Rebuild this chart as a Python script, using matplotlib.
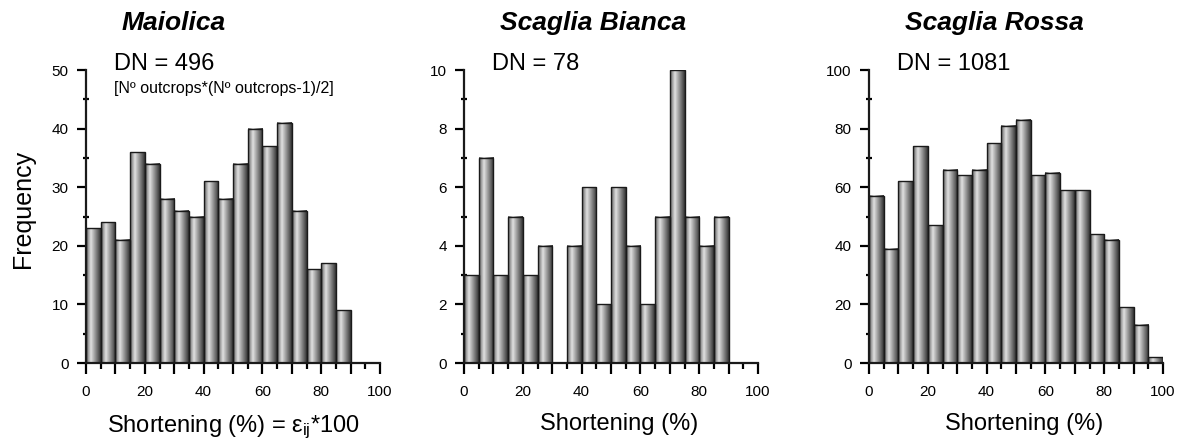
import numpy as np
import matplotlib
matplotlib.use("Agg")
import matplotlib.pyplot as plt
from matplotlib.ticker import MultipleLocator, FuncFormatter

plt.rcParams['font.family'] = ['Liberation Sans', 'DejaVu Sans']
plt.rcParams['mathtext.fontset'] = 'custom'
plt.rcParams['mathtext.rm'] = 'Liberation Sans'
plt.rcParams['mathtext.it'] = 'Liberation Sans:italic'

# histogram data, 5 % bins starting at 0
bin_width = 5
maiolica = [23, 24, 21, 36, 34, 28, 26, 25, 31, 28, 34, 40, 37, 41, 26, 16, 17, 9]
scaglia_bianca = [3, 7, 3, 5, 3, 4, 0, 4, 6, 2, 6, 4, 2, 5, 10, 5, 4, 5]
scaglia_rossa = [57, 39, 62, 74, 47, 66, 64, 66, 75, 81, 83, 64, 65, 59, 59, 44, 42, 19, 13, 2]

titles = ['Maiolica', 'Scaglia Bianca', 'Scaglia Rossa']
dn_labels = ['DN = 496', 'DN = 78', 'DN = 1081']
xlabels = ['Shortening (%) = ε$_\\mathrm{ij}$*100', 'Shortening (%)', 'Shortening (%)']
ymax = [50, 10, 100]
ystep = [10, 2, 20]

# horizontal shading of the bars (dark edge, highlight, dark edge)
shade = np.interp(np.linspace(0, 1, 64), [0, 0.33, 1], [0.38, 0.88, 0.2])
grad = shade[np.newaxis, :]

fig = plt.figure(figsize=(11.8, 4.4), dpi=100)
lefts = [86, 464, 869]
W, H = 1180, 440


def plot_hist(ax, counts, top, step):
    edges = np.arange(len(counts)) * bin_width
    bars = ax.bar(edges, counts, width=bin_width, align='edge',
                  facecolor='none', edgecolor='#1a1a1a', linewidth=1.0, zorder=3)
    for p in bars.patches:
        if p.get_height() <= 0:
            p.set_visible(False)
            continue
        x0, y0 = p.get_x(), p.get_y()
        ax.imshow(grad, extent=[x0, x0 + p.get_width(), y0, y0 + p.get_height()],
                  aspect='auto', cmap='gray', vmin=0, vmax=1, zorder=2,
                  interpolation='bilinear')
    ax.set_xlim(0, 100)
    ax.set_ylim(0, top)
    for s in ['top', 'right']:
        ax.spines[s].set_visible(False)
    for s in ['left', 'bottom']:
        ax.spines[s].set_linewidth(1.6)
        ax.spines[s].set_color('#1a1a1a')
        ax.spines[s].set_zorder(4)
    ax.xaxis.set_major_locator(MultipleLocator(10))
    ax.xaxis.set_minor_locator(MultipleLocator(5))
    ax.xaxis.set_major_formatter(FuncFormatter(
        lambda v, pos: '%d' % v if int(round(v)) % 20 == 0 else ''))
    ax.yaxis.set_major_locator(MultipleLocator(step))
    ax.yaxis.set_minor_locator(MultipleLocator(step / 2))
    ax.tick_params(axis='x', which='major', direction='out', length=8, width=1.6,
                   labelsize=11, pad=8)
    ax.tick_params(axis='x', which='minor', direction='out', length=4.5, width=1.6)
    ax.tick_params(axis='y', which='major', direction='out', length=6.5, width=1.6,
                   labelsize=11, pad=6)
    ax.tick_params(axis='y', which='minor', direction='inout', length=5, width=1.6)


for i, counts in enumerate([maiolica, scaglia_bianca, scaglia_rossa]):
    ax = fig.add_axes([lefts[i] / W, (H - 363) / H, 294 / W, 293 / H])
    plot_hist(ax, counts, ymax[i], ystep[i])
    ax.text(0.122, 1.1365, titles[i], transform=ax.transAxes, fontsize=19,
            fontweight='bold', fontstyle='italic', ha='left', va='baseline')
    ax.text(0.095, 1.0, dn_labels[i], transform=ax.transAxes, fontsize=17,
            ha='left', va='baseline')
    ax.set_xlabel(xlabels[i], fontsize=17, labelpad=10)
    if i > 0:
        ax.xaxis.label.set_x(0.527)
    if i == 0:
        ax.set_ylabel('Frequency', fontsize=18)
        ax.yaxis.set_label_coords(-0.175, 0.527)
        ax.text(0.095, 0.92, '[Nº outcrops*(Nº outcrops-1)/2]', transform=ax.transAxes,
                fontsize=11.5, ha='left', va='baseline')

fig.savefig('out.png', dpi=100, facecolor='white')
